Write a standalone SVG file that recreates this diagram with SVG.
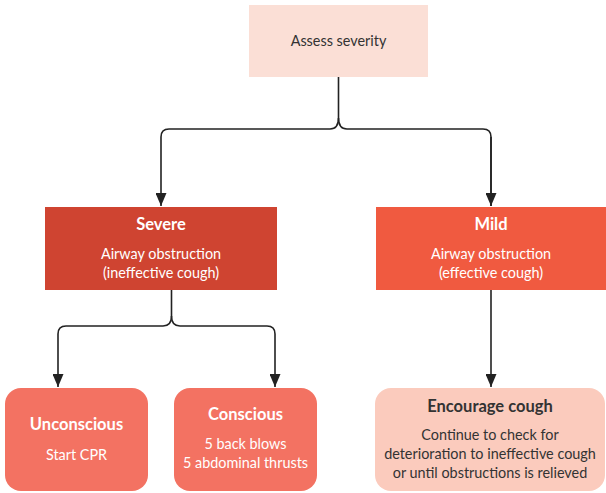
<svg xmlns="http://www.w3.org/2000/svg" width="606" height="493" viewBox="0 0 606 493">
  <defs>
    <marker id="arrow" markerWidth="14" markerHeight="11" refX="13" refY="5.5" orient="auto" markerUnits="userSpaceOnUse">
      <path d="M0,0 L13,5.5 L0,11 Z" fill="#222"/>
    </marker>
  </defs>
  <style>
    text { font-family: Lato, "Open Sans", "Liberation Sans", sans-serif; font-size: 14.4px; text-anchor: middle; }
    .title { font-weight: bold; font-size: 16.5px; }
    .light { fill: #ffffff; }
    .dark { fill: #333333; }
    .edge { fill: none; stroke: #222; stroke-width: 1.6; }
  </style>

  <g id="connectors">
    <path class="edge" d="M338.5,77 V118 Q338.5,129 330,129 H169 Q161,129 161,137 V206" marker-end="url(#arrow)"/>
    <path class="edge" d="M338.5,118 Q338.5,129 347,129 H483 Q491,129 491,137 V206" />
    <path class="edge" d="M491,137 V206" marker-end="url(#arrow)"/>
    <path class="edge" d="M171.5,290 V316 Q171.5,326 163,326 H66 Q58,326 58,334 V387" marker-end="url(#arrow)"/>
    <path class="edge" d="M171.5,316 Q171.5,326 180,326 H267 Q275,326 275,334 V387" marker-end="url(#arrow)"/>
    <path class="edge" d="M491,290 V387" marker-end="url(#arrow)"/>
  </g>

  <g id="assess">
    <rect x="249" y="5" width="179" height="72" fill="#fbdfd6"/>
    <text class="dark" x="338.5" y="46">Assess severity</text>
  </g>

  <g id="severe">
    <rect x="45" y="207" width="232" height="83" fill="#cf4431"/>
    <text class="light title" x="161" y="230">Severe</text>
    <text class="light" x="161" y="259">Airway obstruction</text>
    <text class="light" x="161" y="278">(ineffective cough)</text>
  </g>

  <g id="mild">
    <rect x="376" y="207" width="230" height="83" fill="#f05a40"/>
    <text class="light title" x="491" y="230">Mild</text>
    <text class="light" x="491" y="259">Airway obstruction</text>
    <text class="light" x="491" y="278">(effective cough)</text>
  </g>

  <g id="unconscious">
    <rect x="5" y="388" width="143" height="103" rx="16" fill="#f37262"/>
    <text class="light title" x="76.5" y="430">Unconscious</text>
    <text class="light" x="76.5" y="460">Start CPR</text>
  </g>

  <g id="conscious">
    <rect x="174" y="388" width="143" height="103" rx="16" fill="#f37262"/>
    <text class="light title" x="245.5" y="420">Conscious</text>
    <text class="light" x="245.5" y="449">5 back blows</text>
    <text class="light" x="245.5" y="468">5 abdominal thrusts</text>
  </g>

  <g id="encourage">
    <rect x="375" y="388" width="230" height="103" rx="16" fill="#fbcbbd"/>
    <text class="dark title" x="490" y="412">Encourage cough</text>
    <text class="dark" x="490" y="440">Continue to check for</text>
    <text class="dark" x="490" y="459">deterioration to ineffective cough</text>
    <text class="dark" x="490" y="478">or until obstructions is relieved</text>
  </g>
</svg>
